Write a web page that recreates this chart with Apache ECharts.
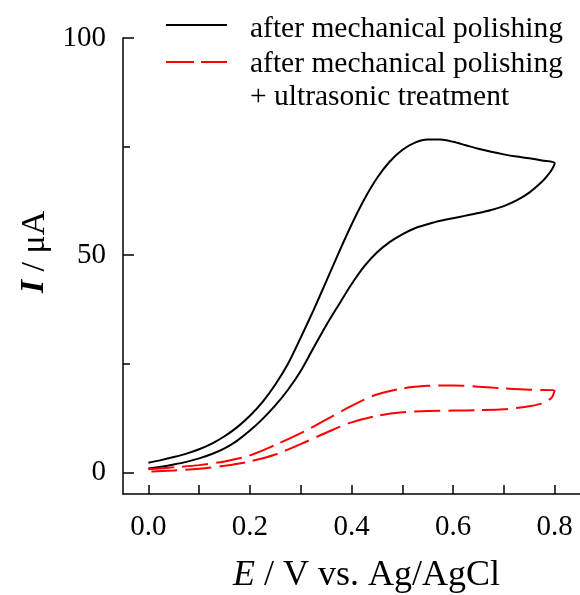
<!DOCTYPE html>
<html>
<head>
<meta charset="utf-8">
<script src="https://cdn.jsdelivr.net/npm/echarts@6/dist/echarts.min.js"></script>
<style>
  html, body { margin: 0; padding: 0; background: #fff; }
  #main { width: 580px; height: 595px; }
</style>
</head>
<body>
<div id="main"></div>
<script>
// potential (V) and current (uA); forward scan up to 0.8 V, then reverse scan back to 0
var blackE = [0.0, 0.025, 0.05, 0.075, 0.1, 0.125, 0.15, 0.175, 0.2, 0.225, 0.25, 0.275, 0.3, 0.325, 0.35, 0.375, 0.4, 0.425, 0.45, 0.475, 0.5, 0.525, 0.55, 0.575, 0.6, 0.625, 0.65, 0.675, 0.7, 0.725, 0.75, 0.775, 0.8,
              0.795, 0.785, 0.775, 0.75, 0.725, 0.7, 0.675, 0.65, 0.625, 0.6, 0.575, 0.55, 0.525, 0.5, 0.475, 0.45, 0.425, 0.4, 0.375, 0.35, 0.325, 0.3, 0.275, 0.25, 0.225, 0.2, 0.175, 0.15, 0.125, 0.1, 0.075, 0.05, 0.025, 0.0];
var blackI = [2.2, 2.8, 3.5, 4.3, 5.3, 6.6, 8.3, 10.4, 13.0, 16.2, 20.2, 25.0, 31.0, 37.3, 43.9, 50.6, 57.0, 62.8, 67.7, 71.5, 74.2, 75.9, 76.6, 76.6, 76.1, 75.3, 74.5, 73.8, 73.2, 72.7, 72.3, 71.8, 71.2,
              69.8, 68.2, 66.9, 64.4, 62.6, 61.3, 60.4, 59.7, 59.1, 58.5, 57.9, 57.1, 56.2, 54.8, 53.0, 50.6, 47.4, 43.3, 38.6, 33.8, 28.6, 23.3, 19.0, 15.4, 12.3, 9.6, 7.3, 5.5, 4.2, 3.2, 2.4, 1.8, 1.3, 0.9];

var redE = [0.0, 0.05, 0.1, 0.15, 0.2, 0.25, 0.3, 0.35, 0.4, 0.45, 0.5, 0.55, 0.6, 0.65, 0.7, 0.75, 0.8,
            0.795, 0.785, 0.77, 0.75, 0.7, 0.65, 0.6, 0.55, 0.5, 0.45, 0.4, 0.35, 0.3, 0.25, 0.2, 0.15, 0.1, 0.05, 0.0];
var redI = [0.7, 1.15, 1.65, 2.5, 3.9, 6.3, 9.0, 12.1, 15.3, 17.9, 19.3, 19.9, 20.0, 19.7, 19.3, 19.0, 18.9,
            17.3, 16.4, 15.7, 15.2, 14.5, 14.3, 14.2, 14.1, 13.8, 13.0, 11.5, 9.1, 6.5, 4.1, 2.5, 1.5, 0.8, 0.4, 0.15];

var xLabels = [0, 0.2, 0.4, 0.6, 0.8];
var xTicks = [0, 0.1, 0.2, 0.3, 0.4, 0.5, 0.6, 0.7, 0.8];
var yMajor = [0, 50, 100];
var yMinor = [25, 75];

var legendNames = ['after mechanical polishing', 'after mechanical polishing\n+ ultrasonic treatment'];

var FONT = 'Liberation Serif';

var pairs = function(xs, ys) {
    var out = [];
    for (var i = 0; i < xs.length; i++) out.push([xs[i], ys[i]]);
    return out;
};

var chart = echarts.init(document.getElementById('main'));

var option = {
    animation: false,
    grid: { left: 123, top: 38, right: 0, bottom: 101, containLabel: false, outerBoundsMode: 'none' },
    xAxis: {
        type: 'value',
        min: -0.05,
        max: 0.85,
        name: '{i|E} / V vs. Ag/AgCl',
        nameLocation: 'middle',
        nameGap: 64,
        nameTextStyle: {
            fontFamily: FONT, fontSize: 36, color: '#000',
            padding: [0, 0, 0, 30],
            rich: { i: { fontFamily: FONT, fontSize: 36, fontStyle: 'italic', color: '#000' } }
        },
        axisLine: { onZero: false, lineStyle: { color: '#000', width: 1.5 } },
        axisTick: { inside: true, length: 9, customValues: xTicks, lineStyle: { color: '#000', width: 1.5 } },
        axisLabel: {
            customValues: xLabels,
            margin: 19,
            fontFamily: FONT, fontSize: 29, color: '#000',
            formatter: function(v) { return v.toFixed(1); }
        },
        splitLine: { show: false }
    },
    yAxis: [{
        type: 'value',
        min: -5,
        max: 100,
        name: '{b|I} / μA',
        nameLocation: 'middle',
        nameGap: 63,
        nameTextStyle: {
            fontFamily: FONT, fontSize: 34, color: '#000',
            padding: [0, 0, 0, 28],
            rich: { b: { fontFamily: FONT, fontSize: 34, fontStyle: 'italic', fontWeight: 'bold', color: '#000' } }
        },
        axisLine: { show: true, onZero: false, lineStyle: { color: '#000', width: 1.5 } },
        axisTick: { show: true, inside: true, length: 11, customValues: yMajor, lineStyle: { color: '#000', width: 1.5 } },
        axisLabel: { customValues: yMajor, margin: 17, fontFamily: FONT, fontSize: 29, color: '#000' },
        splitLine: { show: false }
    }, {
        type: 'value',
        min: -5,
        max: 100,
        position: 'left',
        offset: 0,
        axisLine: { show: false, onZero: false },
        axisTick: { show: true, inside: true, length: 7, customValues: yMinor, lineStyle: { color: '#000', width: 1.5 } },
        axisLabel: { show: false },
        splitLine: { show: false }
    }],
    series: [{
        type: 'line',
        name: legendNames[0],
        data: pairs(blackE, blackI),
        showSymbol: false,
        smooth: 0.3,
        lineStyle: { color: '#000', width: 2 }
    }, {
        type: 'line',
        name: legendNames[1],
        data: pairs(redE, redI),
        showSymbol: false,
        smooth: 0.3,
        lineStyle: { color: '#ff0000', width: 2, type: [26, 8] }
    }],
    graphic: [
        { type: 'line', shape: { x1: 166, y1: 25, x2: 227, y2: 25 }, style: { stroke: '#000', lineWidth: 2 } },
        { type: 'text', left: 250, top: 14, style: { text: legendNames[0], font: '29.5px "Liberation Serif"', fill: '#000' } },
        { type: 'line', shape: { x1: 166, y1: 62, x2: 227, y2: 62 }, style: { stroke: '#ff0000', lineWidth: 2, lineDash: [28, 7] } },
        { type: 'text', left: 250, top: 48, style: { text: legendNames[1], font: '29.5px "Liberation Serif"', lineHeight: 33, fill: '#000' } }
    ]
};

chart.setOption(option);
</script>
</body>
</html>
